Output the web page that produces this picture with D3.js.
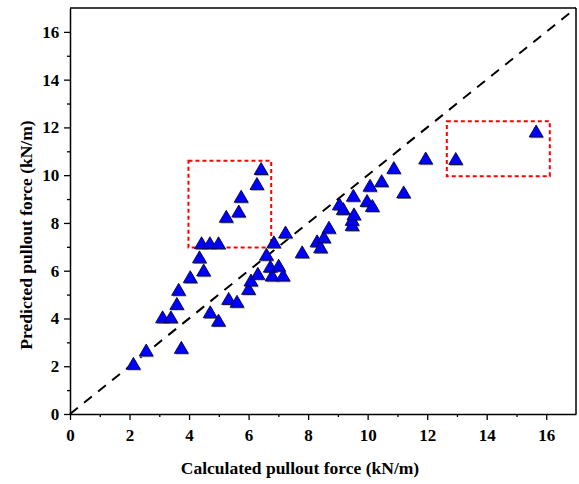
<!DOCTYPE html>
<html>
<head>
<meta charset="utf-8">
<script src="https://cdn.jsdelivr.net/npm/d3@7"></script>
<style>
body { margin: 0; background: #fff; }
svg text { font-family: "Liberation Serif", "Times New Roman", serif; font-weight: bold; }
</style>
</head>
<body>
<script>
// calculated vs predicted pullout force (kN/m)
var calculated = [2.13, 2.56, 3.74, 3.11, 3.39, 3.59, 3.65, 4.04, 4.49, 4.35, 4.42, 4.70, 4.99,
    4.71, 4.99, 5.33, 5.61, 6.00, 6.08, 6.31, 6.79, 7.16, 6.73, 7.01, 6.60, 6.85, 7.24,
    5.25, 5.67, 5.75, 6.28, 6.42, 7.80, 8.30, 8.42, 8.53, 8.70, 9.05, 9.18, 9.48, 9.48,
    9.54, 9.52, 9.98, 10.16, 10.08, 10.47, 10.88, 11.21, 11.95, 12.96, 15.66];
var predicted = [2.12, 2.68, 2.79, 4.07, 4.07, 4.63, 5.22, 5.75, 6.03, 6.58, 7.17, 7.17, 7.17,
    4.28, 3.93, 4.84, 4.72, 5.26, 5.61, 5.89, 5.82, 5.82, 6.19, 6.23, 6.69, 7.21, 7.62,
    8.28, 8.50, 9.12, 9.65, 10.28, 6.79, 7.25, 7.00, 7.42, 7.82, 8.80, 8.60, 7.93, 8.15,
    8.38, 9.16, 8.94, 8.73, 9.58, 9.77, 10.32, 9.30, 10.72, 10.70, 11.85];
var ticks = [0, 2, 4, 6, 8, 10, 12, 14, 16];
var minorTicks = [1, 3, 5, 7, 9, 11, 13, 15];
// highlighted regions [x0, x1, y0, y1]
var boxes = [[3.98, 6.76, 6.97, 10.6], [12.66, 16.12, 9.96, 12.26]];

var width = 579, height = 484;
var margin = {left: 70, right: 3, top: 8, bottom: 70};

var svg = d3.select("body").append("svg")
    .attr("width", width).attr("height", height);

var x = d3.scaleLinear().domain([0, 17]).range([margin.left, width - margin.right]);
var y = d3.scaleLinear().domain([0, 17]).range([height - margin.bottom, margin.top]);

// diagonal 1:1 line
svg.append("line")
    .attr("x1", x(0)).attr("y1", y(0))
    .attr("x2", x(17)).attr("y2", y(17))
    .attr("stroke", "#000").attr("stroke-width", 2)
    .attr("stroke-dasharray", "10,8");

// red dashed boxes
svg.selectAll(".box").data(boxes).enter()
    .append("rect")
    .attr("x", function(d) { return x(d[0]); })
    .attr("y", function(d) { return y(d[3]); })
    .attr("width", function(d) { return x(d[1]) - x(d[0]); })
    .attr("height", function(d) { return y(d[2]) - y(d[3]); })
    .attr("fill", "none").attr("stroke", "#ff0000")
    .attr("stroke-width", 2).attr("stroke-dasharray", "4,3");

// triangles
var tri = "M0,-6L7,6L-7,6Z";
var pts = calculated.map(function(c, i) { return [c, predicted[i]]; });
svg.selectAll(".shadow").data(pts).enter()
    .append("path")
    .attr("d", tri)
    .attr("transform", function(d) { return "translate(" + (x(d[0]) + 1) + "," + (y(d[1]) + 1.2) + ")"; })
    .attr("fill", "#9a9a9a");
svg.selectAll(".pt").data(pts).enter()
    .append("path")
    .attr("d", tri)
    .attr("transform", function(d) { return "translate(" + x(d[0]) + "," + y(d[1]) + ")"; })
    .attr("fill", "#0000ff").attr("stroke", "#000020").attr("stroke-width", 0.8);

// axes
var xAxis = d3.axisBottom(x).tickValues(ticks).tickSize(6).tickSizeOuter(0).tickFormat(d3.format("d"));
var yAxis = d3.axisLeft(y).tickValues(ticks).tickSize(6).tickSizeOuter(0).tickFormat(d3.format("d"));

var gx = svg.append("g").attr("transform", "translate(0," + y(0) + ")").call(xAxis);
var gy = svg.append("g").attr("transform", "translate(" + x(0) + ",0)").call(yAxis);
[gx, gy].forEach(function(g) {
    g.select(".domain").attr("stroke-width", 1.5);
    g.selectAll(".tick line").attr("stroke-width", 1.3);
    g.selectAll("text").attr("font-size", 17).attr("fill", "#000");
});
gx.selectAll("text").attr("dy", "1.05em");
gy.selectAll("text").attr("dx", "-0.1em");

svg.append("g").attr("transform", "translate(0," + y(0) + ")")
    .call(d3.axisBottom(x).tickValues(minorTicks).tickSize(3).tickFormat(""))
    .call(function(g) { g.select(".domain").remove(); g.selectAll("line").attr("stroke-width", 1.3); });
svg.append("g").attr("transform", "translate(" + x(0) + ",0)")
    .call(d3.axisLeft(y).tickValues(minorTicks).tickSize(3).tickFormat(""))
    .call(function(g) { g.select(".domain").remove(); g.selectAll("line").attr("stroke-width", 1.3); });

// frame top / right
svg.append("line").attr("x1", x(0)).attr("x2", x(17)).attr("y1", y(17)).attr("y2", y(17))
    .attr("stroke", "#000").attr("stroke-width", 1.5);
svg.append("line").attr("x1", x(17)).attr("x2", x(17)).attr("y1", y(17)).attr("y2", y(0))
    .attr("stroke", "#000").attr("stroke-width", 1.5);

// titles
svg.append("text").attr("x", 300).attr("y", 474)
    .attr("text-anchor", "middle").attr("font-size", 17.5)
    .text("Calculated pullout force (kN/m)");
svg.append("text").attr("transform", "translate(32,235) rotate(-90)")
    .attr("text-anchor", "middle").attr("font-size", 17.5)
    .text("Predicted pullout force (kN/m)");
</script>
</body>
</html>
